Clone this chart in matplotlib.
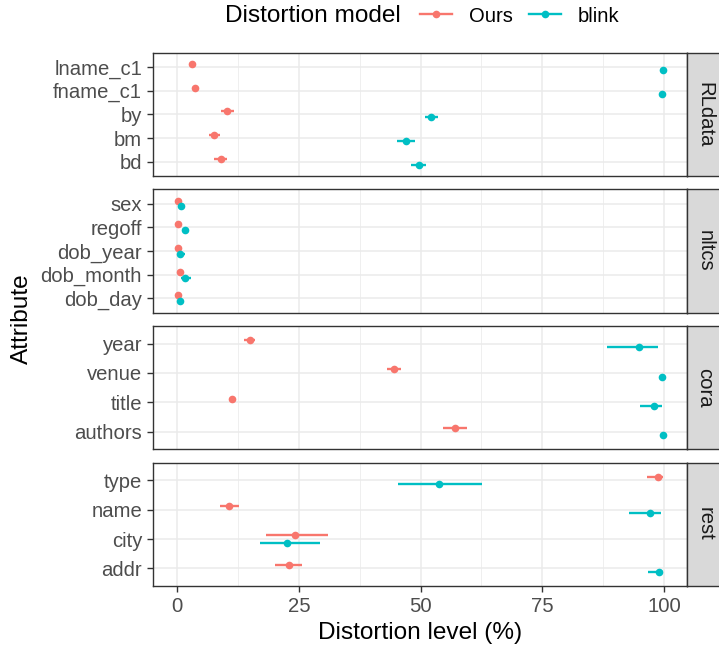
import matplotlib
matplotlib.use("Agg")
import matplotlib.pyplot as plt
from matplotlib.lines import Line2D
import numpy as np

plt.rcParams['font.family'] = ['Liberation Sans', 'DejaVu Sans']

# dados (valor, limite inferior, limite superior)
panels = ["RLdata", "nltcs", "cora", "rest"]

rl_attr = ["lname_c1", "fname_c1", "by", "bm", "bd"]
rl_ours = [3.1, 3.7, 10.2, 7.5, 8.9]
rl_ours_lo = [3.1, 3.7, 9.0, 6.5, 7.6]
rl_ours_hi = [3.1, 3.7, 11.6, 8.7, 10.2]
rl_blink = [99.8, 99.6, 52.2, 47.0, 49.6]
rl_blink_lo = [99.8, 99.6, 50.8, 45.2, 48.1]
rl_blink_hi = [99.8, 99.6, 53.6, 48.8, 51.2]

nl_attr = ["sex", "regoff", "dob_year", "dob_month", "dob_day"]
nl_ours = [0.2, 0.15, 0.2, 0.5, 0.2]
nl_ours_lo = [0.2, 0.15, 0.2, 0.0, 0.2]
nl_ours_hi = [0.2, 0.15, 0.2, 1.0, 0.2]
nl_blink = [0.7, 1.6, 0.5, 1.6, 0.6]
nl_blink_lo = [0.4, 1.0, 0.0, 0.7, 0.4]
nl_blink_hi = [0.9, 2.2, 1.5, 2.8, 0.9]

co_attr = ["year", "venue", "title", "authors"]
co_ours = [15.0, 44.5, 11.3, 57.0]
co_ours_lo = [13.8, 43.0, 11.3, 54.6]
co_ours_hi = [15.9, 46.0, 11.3, 59.5]
co_blink = [94.9, 99.6, 98.0, 99.9]
co_blink_lo = [88.2, 99.6, 95.1, 99.9]
co_blink_hi = [98.7, 99.6, 99.6, 99.9]

re_attr = ["type", "name", "city", "addr"]
re_ours = [98.8, 10.7, 24.1, 22.9]
re_ours_lo = [96.6, 8.8, 18.2, 20.0]
re_ours_hi = [99.8, 12.6, 30.9, 25.7]
re_blink = [53.7, 97.2, 22.6, 99.0]
re_blink_lo = [45.4, 92.9, 17.0, 96.8]
re_blink_hi = [62.7, 99.4, 29.4, 99.8]

models = ["Ours", "blink"]
cores = {"Ours": "#F8766D", "blink": "#00BFC4"}

dados = {
    "RLdata": (rl_attr, (rl_ours, rl_ours_lo, rl_ours_hi), (rl_blink, rl_blink_lo, rl_blink_hi)),
    "nltcs": (nl_attr, (nl_ours, nl_ours_lo, nl_ours_hi), (nl_blink, nl_blink_lo, nl_blink_hi)),
    "cora": (co_attr, (co_ours, co_ours_lo, co_ours_hi), (co_blink, co_blink_lo, co_blink_hi)),
    "rest": (re_attr, (re_ours, re_ours_lo, re_ours_hi), (re_blink, re_blink_lo, re_blink_hi)),
}

W, H = 719, 649
fig = plt.figure(figsize=(W / 100, H / 100), dpi=100)

base = 17.6
tick_size = 14.6
grey20 = "#333333"
grey30 = "#4D4D4D"

left_px, right_px = 153.3, 687.3
tops = [52.7, 189.3, 326.0, 462.7]
ph = 123.3
dodge = 0.125

for k, (nome, top) in enumerate(zip(panels, tops)):
    ax = fig.add_axes([left_px / W, 1 - (top + ph) / H, (right_px - left_px) / W, ph / H])
    attrs, ours, blink = dados[nome]
    n = len(attrs)
    y = np.arange(n)

    for model, serie, off in [("Ours", ours, -dodge), ("blink", blink, dodge)]:
        val, lo, hi = serie
        ax.hlines(y + off, lo, hi, color=cores[model], linewidth=1.7, zorder=3)
        ax.plot(val, y + off, 'o', color=cores[model], markersize=5.5, zorder=4,
                markeredgewidth=0)

    ax.set_xlim(-4.93, 104.8)
    ax.set_ylim(n - 0.4, -0.6)
    ax.set_yticks(y)
    ax.set_yticklabels(attrs)
    ax.set_xticks([0, 25, 50, 75, 100])
    ax.set_xticks([12.5, 37.5, 62.5, 87.5], minor=True)
    ax.grid(True, which='major', color='#EBEBEB', linewidth=1.1, zorder=0)
    ax.grid(True, which='minor', axis='x', color='#EBEBEB', linewidth=0.55, zorder=0)
    ax.set_axisbelow(True)
    ax.tick_params(axis='both', which='major', colors=grey20, labelcolor=grey30,
                   labelsize=tick_size, length=4.5, width=1, pad=3.6)
    ax.tick_params(axis='both', which='minor', length=0)
    for s in ax.spines.values():
        s.set_color(grey20)
        s.set_linewidth(1.0)
    if k < len(panels) - 1:
        ax.tick_params(axis='x', labelbottom=False, length=0)
    else:
        ax.set_xlabel("Distortion level (%)", fontsize=base, labelpad=4)

    # faixa lateral
    sax = fig.add_axes([right_px / W, 1 - (top + ph) / H, 40 / W, ph / H])
    sax.set_facecolor('#D9D9D9')
    sax.set_xticks([])
    sax.set_yticks([])
    for s in sax.spines.values():
        s.set_color(grey20)
        s.set_linewidth(1.0)
    sax.text(17.7 / 40, 0.5, nome, transform=sax.transAxes, rotation=-90,
             ha='center', va='center', fontsize=tick_size, color='#1A1A1A')

fig.text(22 / W, 1 - 319 / H, "Attribute", rotation=90, ha='center', va='center',
         fontsize=base)

# legenda
fig.text(225 / W, 1 - 16 / H, "Distortion model", ha='left', va='center', fontsize=base)
handles = [Line2D([0], [0], color=cores[m], linewidth=1.7, marker='o', markersize=5.5,
                  markeredgewidth=0) for m in models]
fig.legend(handles, models, loc='center left', bbox_to_anchor=(420 / W, 1 - 16 / H),
           ncol=2, frameon=False, fontsize=tick_size, handlelength=1.6,
           handletextpad=0.8, columnspacing=0.8, borderpad=0, borderaxespad=0)

plt.savefig("out.png", dpi=100)
